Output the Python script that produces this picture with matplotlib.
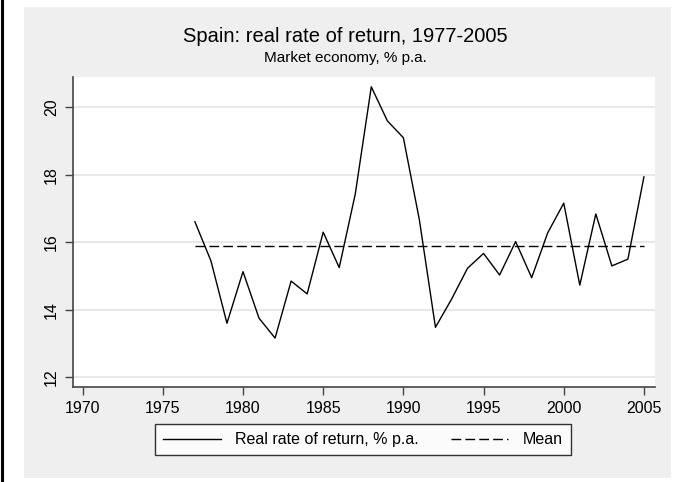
import numpy as np
import matplotlib
matplotlib.use('Agg')
import matplotlib.pyplot as plt
from matplotlib.patches import Rectangle
from matplotlib.lines import Line2D

plt.rcParams['font.family'] = ['Liberation Sans', 'DejaVu Sans']

# -------- data --------
years = list(range(1977, 2006))
real_return = [16.61, 15.45, 13.60, 15.13, 13.75, 13.16, 14.85, 14.47, 16.30, 15.25,
               17.43, 20.61, 19.60, 19.10, 16.66, 13.48, 14.31, 15.23, 15.67, 15.03,
               16.02, 14.95, 16.28, 17.16, 14.73, 16.84, 15.30, 15.50, 17.94]
mean_return = float(np.mean(real_return))

x_ticks = [1970, 1975, 1980, 1985, 1990, 1995, 2000, 2005]
y_ticks = [12, 14, 16, 18, 20]

W, H = 684, 482
fig = plt.figure(figsize=(W / 100, H / 100), dpi=100)
fig.patch.set_facecolor('white')

# grey graph region + black left border
fig.add_artist(Rectangle((24 / W, 4 / H), 647 / W, 471 / H, transform=fig.transFigure,
                         facecolor='#efefef', edgecolor='none', zorder=0))
fig.add_artist(Line2D([1.5 / W, 1.5 / W], [0, 1], transform=fig.transFigure,
                      color='black', linewidth=2.2))

ax = fig.add_axes([73 / W, 1 - 387 / H, 582 / W, 310 / H])
ax.set_facecolor('white')

ax.plot(years, real_return, color='black', linewidth=1.0, label='Real rate of return, % p.a.')
ax.plot([years[0], years[-1]], [mean_return, mean_return], color='black', linewidth=1.0,
        dashes=(7, 3), label='Mean')

ax.set_xlim(1969.4, 2005.69)
ax.set_ylim(11.71, 20.9)
ax.set_xticks(x_ticks)
ax.set_yticks(y_ticks)
ax.set_yticklabels([str(v) for v in y_ticks], rotation=90, va='center')
ax.tick_params(axis='both', labelsize=11.5, length=6, width=1.0, color='#444444', pad=4)
ax.grid(True, axis='y', color='#e6e6e6', linewidth=1.3)
ax.set_axisbelow(True)

for side in ['top', 'right']:
    ax.spines[side].set_visible(False)
for side in ['left', 'bottom']:
    ax.spines[side].set_color('#444444')
    ax.spines[side].set_linewidth(1.2)

fig.text(345 / W, 1 - 36 / H, 'Spain: real rate of return, 1977-2005', ha='center', va='center',
         fontsize=14.5)
fig.text(345 / W, 1 - 58 / H, 'Market economy, % p.a.', ha='center', va='center', fontsize=11)

leg = ax.legend(loc='center', bbox_to_anchor=(363 / W, 1 - 439.6 / H),
                bbox_transform=fig.transFigure, ncol=2, fontsize=11.5, frameon=True,
                fancybox=False, handlelength=3.6, handletextpad=0.9, columnspacing=2.0,
                borderpad=0.5)
leg.get_frame().set_edgecolor('black')
leg.get_frame().set_linewidth(1.0)

fig.savefig('out.png', dpi=100)
